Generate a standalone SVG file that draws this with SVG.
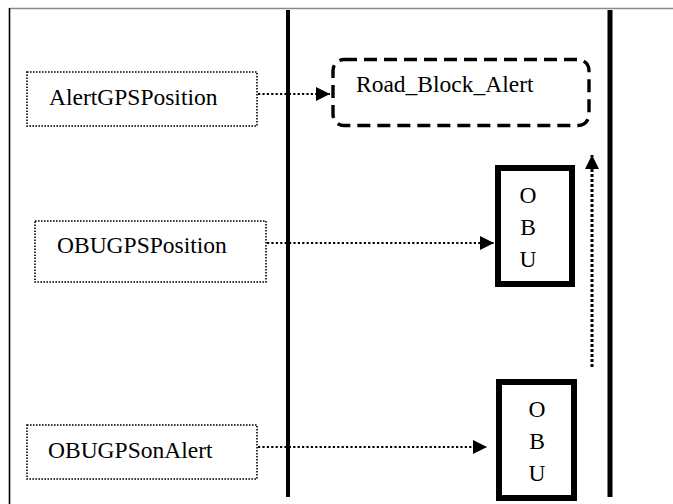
<svg xmlns="http://www.w3.org/2000/svg" width="673" height="504" viewBox="0 0 673 504">
  <style>
    .lbl { font-family: "Liberation Serif", "Times New Roman", serif; font-size: 23.5px; fill: #000; }
    .port { fill: #fff; stroke: #000; stroke-width: 1.6; stroke-dasharray: 1.6 1.4; }
    .obu { fill: #fff; stroke: #000; stroke-width: 6; }
    .flow { fill: none; stroke: #000; stroke-width: 2.2; stroke-dasharray: 2.2 2.2; }
    .flow-up { fill: none; stroke: #000; stroke-width: 3; stroke-dasharray: 3 2; }
    .lifeline { stroke: #000; }
  </style>
  <defs>
    <marker id="tri" viewBox="0 0 14 14" refX="14" refY="7" markerWidth="14" markerHeight="14" markerUnits="userSpaceOnUse" orient="auto">
      <path d="M0,0 L14,7 L0,14 Z" fill="#000"/>
    </marker>
  </defs>

  <rect width="673" height="504" fill="#fff"/>

  <!-- frame -->
  <g id="frame">
    <line x1="9" y1="8.5" x2="673" y2="8.5" stroke="#8a8a8a" stroke-width="1.6"/>
    <line x1="9.5" y1="8" x2="9.5" y2="504" stroke="#000" stroke-width="1.6"/>
  </g>

  <!-- lifelines -->
  <g id="lifelines">
    <line class="lifeline" x1="288" y1="10" x2="288" y2="497" stroke-width="4"/>
    <line class="lifeline" x1="610" y1="10" x2="610" y2="497" stroke-width="5"/>
  </g>

  <g id="alert-gps-position">
    <rect class="port" x="27" y="72" width="230" height="54"/>
    <text class="lbl" x="49" y="105">AlertGPSPosition</text>
  </g>

  <g id="road-block-alert">
    <rect x="333" y="59.5" width="256" height="66" rx="11" ry="11" fill="#fff" stroke="#000" stroke-width="3.4" stroke-dasharray="13 7"/>
    <text class="lbl" x="356" y="92">Road_Block_Alert</text>
  </g>

  <g id="obu-gps-position">
    <rect class="port" x="35" y="221" width="231" height="61"/>
    <text class="lbl" x="57" y="253">OBUGPSPosition</text>
  </g>

  <g id="obu-1">
    <rect class="obu" x="498" y="168" width="74" height="116"/>
    <text class="lbl" x="528" y="203" text-anchor="middle">O</text>
    <text class="lbl" x="528" y="235" text-anchor="middle">B</text>
    <text class="lbl" x="528" y="267" text-anchor="middle">U</text>
  </g>

  <g id="obu-gps-on-alert">
    <rect class="port" x="27" y="425" width="230" height="54"/>
    <text class="lbl" x="48" y="458">OBUGPSonAlert</text>
  </g>

  <g id="obu-2">
    <rect class="obu" x="499" y="382" width="75" height="116"/>
    <text class="lbl" x="537" y="417" text-anchor="middle">O</text>
    <text class="lbl" x="537" y="449" text-anchor="middle">B</text>
    <text class="lbl" x="537" y="481" text-anchor="middle">U</text>
  </g>

  <!-- connectors -->
  <g id="connectors">
    <line class="flow" x1="258" y1="94" x2="330" y2="94" marker-end="url(#tri)"/>
    <line class="flow" x1="267" y1="243" x2="494" y2="243" marker-end="url(#tri)"/>
    <line class="flow" x1="258" y1="447" x2="487" y2="447" marker-end="url(#tri)"/>
    <line class="flow-up" x1="592" y1="367" x2="592" y2="155" marker-end="url(#tri)"/>
  </g>
</svg>
